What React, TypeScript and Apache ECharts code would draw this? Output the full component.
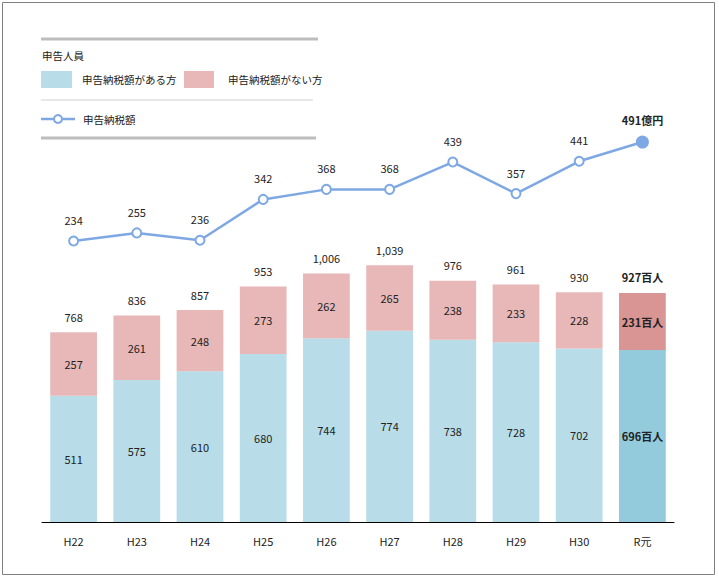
import React, { useEffect, useRef } from "react";
import * as echarts from "echarts";

const categories = ["H22", "H23", "H24", "H25", "H26", "H27", "H28", "H29", "H30", "R元"];
const withTax = [511, 575, 610, 680, 744, 774, 738, 728, 702, 696];
const withoutTax = [257, 261, 248, 273, 262, 265, 238, 233, 228, 231];
const totals = [768, 836, 857, 953, 1006, 1039, 976, 961, 930, 927];
const taxAmount = [234, 255, 236, 342, 368, 368, 439, 357, 441, 491];

const FONT = "'Noto Sans CJK JP', 'Noto Sans', sans-serif";
const BLUE = "#b8dde8";
const PINK = "#e8b8b8";
const BLUE_DARK = "#93cbdc";
const PINK_DARK = "#d99594";
const LINE = "#7ea8e4";
const TXT = "#222";

export default function App() {
  const ref = useRef<HTMLDivElement>(null);
  useEffect(() => {
    if (!ref.current) return;
    const chart = echarts.init(ref.current, null, { renderer: "svg" });
    const last = categories.length - 1;
    const fmtNum = (v: number) => v.toLocaleString("en-US");

    const blueData = withTax.map((v, i) =>
      i === last
        ? {
            value: v,
            itemStyle: { color: BLUE_DARK },
            label: { fontWeight: "bold", formatter: `${v}百人` },
          }
        : v
    );
    const pinkData = withoutTax.map((v, i) =>
      i === last
        ? {
            value: v,
            itemStyle: { color: PINK_DARK },
            label: { fontWeight: "bold", formatter: `${v}百人` },
          }
        : v
    );
    const totalData = totals.map((v, i) =>
      i === last
        ? { value: v, label: { fontWeight: "bold", formatter: `${v}百人` } }
        : { value: v, label: { formatter: fmtNum(v) } }
    );
    const lineData = taxAmount.map((v, i) =>
      i === last
        ? {
            value: v,
            symbolSize: 11,
            itemStyle: { color: LINE, borderColor: LINE },
            label: { fontWeight: "bold", formatter: `${v}億円` },
          }
        : v
    );

    const legendFont = `10.5px ${FONT}`;

    chart.setOption({
      animation: false,
      textStyle: { fontFamily: FONT },
      grid: { left: 42, right: 45, top: 102, bottom: 58, containLabel: false },
      xAxis: {
        type: "category",
        data: categories,
        axisLine: { lineStyle: { color: "#000", width: 1 } },
        axisTick: { show: false },
        axisLabel: { color: TXT, fontSize: 11, margin: 13, fontFamily: FONT },
      },
      yAxis: [
        { type: "value", min: 0, max: 1700, show: false },
        { type: "value", min: -496, max: 595, show: false },
      ],
      series: [
        {
          type: "bar",
          name: "申告納税額がある方",
          stack: "p",
          barWidth: "74%",
          data: blueData,
          itemStyle: { color: BLUE },
          label: { show: true, position: "inside", color: TXT, fontSize: 11, fontFamily: FONT },
        },
        {
          type: "bar",
          name: "申告納税額がない方",
          stack: "p",
          barWidth: "74%",
          data: pinkData,
          itemStyle: { color: PINK },
          label: { show: true, position: "inside", color: TXT, fontSize: 11, fontFamily: FONT },
        },
        {
          type: "line",
          name: "合計",
          data: totalData,
          symbol: "circle",
          symbolSize: 2,
          showSymbol: true,
          itemStyle: { color: "rgba(0,0,0,0)", borderWidth: 0 },
          lineStyle: { width: 0, opacity: 0 },
          label: { show: true, position: "top", distance: 9, color: TXT, fontSize: 11, fontFamily: FONT },
          labelLayout: { hideOverlap: false },
          silent: true,
          z: 5,
        },
        {
          type: "line",
          name: "申告納税額",
          yAxisIndex: 1,
          data: lineData,
          symbol: "circle",
          symbolSize: 9,
          lineStyle: { color: LINE, width: 2.5 },
          itemStyle: { color: "#fff", borderColor: LINE, borderWidth: 2 },
          label: { show: true, position: "top", distance: 10, color: TXT, fontSize: 11, fontFamily: FONT },
          z: 6,
        },
      ],
      graphic: [
        {
          type: "rect",
          shape: { x: 2.5, y: 2.5, width: 712, height: 572 },
          style: { fill: "none", stroke: "#808080", lineWidth: 1 },
          silent: true,
        },
        {
          type: "line",
          shape: { x1: 41, y1: 39, x2: 318, y2: 39 },
          style: { stroke: "#bdbdbd", lineWidth: 3 },
        },
        {
          type: "text",
          x: 42,
          y: 55,
          style: { text: "申告人員", fill: TXT, font: legendFont, verticalAlign: "middle" },
        },
        {
          type: "rect",
          shape: { x: 41, y: 71, width: 31, height: 17 },
          style: { fill: BLUE },
        },
        {
          type: "text",
          x: 82,
          y: 79.5,
          style: { text: "申告納税額がある方", fill: TXT, font: legendFont, verticalAlign: "middle" },
        },
        {
          type: "rect",
          shape: { x: 184, y: 71, width: 30, height: 17 },
          style: { fill: PINK },
        },
        {
          type: "text",
          x: 228,
          y: 79.5,
          style: { text: "申告納税額がない方", fill: TXT, font: legendFont, verticalAlign: "middle" },
        },
        {
          type: "line",
          shape: { x1: 41, y1: 100, x2: 313, y2: 100 },
          style: { stroke: "#d0d0d0", lineWidth: 1 },
        },
        {
          type: "line",
          shape: { x1: 41, y1: 119, x2: 75, y2: 119 },
          style: { stroke: LINE, lineWidth: 2.5 },
        },
        {
          type: "circle",
          shape: { cx: 58, cy: 119, r: 4 },
          style: { fill: "#fff", stroke: LINE, lineWidth: 2 },
        },
        {
          type: "text",
          x: 83,
          y: 119,
          style: { text: "申告納税額", fill: TXT, font: legendFont, verticalAlign: "middle" },
        },
        {
          type: "line",
          shape: { x1: 41, y1: 138, x2: 316, y2: 138 },
          style: { stroke: "#bdbdbd", lineWidth: 3 },
        },
      ],
    });
    return () => chart.dispose();
  }, []);
  return (
    <div
      ref={ref}
      style={{ position: "fixed", left: 0, top: 0, width: 719, height: 580, background: "#fff" }}
    />
  );
}
